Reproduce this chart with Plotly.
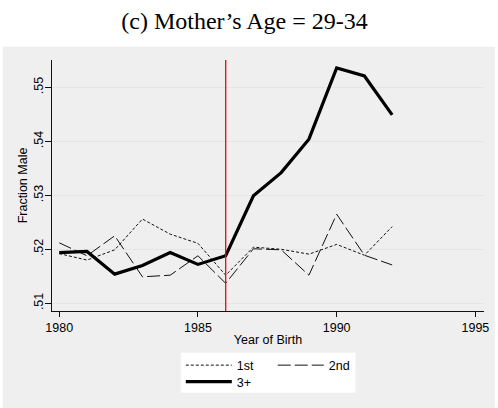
import plotly.graph_objects as go

years = list(range(1980, 1993))
first = [0.5192, 0.5180, 0.5199, 0.5256, 0.5228, 0.5211, 0.5152, 0.5204, 0.5200, 0.5191, 0.5209, 0.5189, 0.5242]
second = [0.5212, 0.5188, 0.5225, 0.5149, 0.5152, 0.5188, 0.5137, 0.5201, 0.5199, 0.5152, 0.5265, 0.5189, 0.5171]
third = [0.5194, 0.5196, 0.5154, 0.5170, 0.5194, 0.5172, 0.5188, 0.5299, 0.5342, 0.5404, 0.5536, 0.5521, 0.5449]
policy_year = 1986

ytick_vals = [0.51, 0.52, 0.53, 0.54, 0.55]
ytick_text = [".51", ".52", ".53", ".54", ".55"]
xtick_vals = [1980, 1985, 1990, 1995]
xtick_text = ["1980", "1985", "1990", "1995"]

W, H = 498, 408
L, R, T, B = 52, 9, 60, 97
PW, PH = W - L - R, H - T - B

def px(x):
    return (x - L) / PW

def py(y):
    return (H - B - y) / PH

BG = "#efefef"
INK = "#111111"
SANS = "Liberation Sans, Arial, sans-serif"
FS = 12.5

fig = go.Figure()

# background panels (style only)
fig.add_shape(type="rect", xref="paper", yref="paper", x0=px(2), x1=px(500), y0=py(410), y1=py(46.7),
              fillcolor=BG, line=dict(width=0), layer="below")
fig.add_shape(type="rect", xref="paper", yref="paper", x0=px(182.3), x1=px(359), y0=py(392.7), y1=py(352.7),
              fillcolor="white", line=dict(width=0), layer="below")

fig.add_trace(go.Scatter(x=years, y=first, mode="lines", name="1st", legend="legend",
                         line=dict(color=INK, width=1, dash="3px,2px")))
fig.add_trace(go.Scatter(x=years, y=second, mode="lines", name="2nd", legend="legend2",
                         line=dict(color=INK, width=1, dash="13px,4px")))
fig.add_trace(go.Scatter(x=years, y=third, mode="lines", name="3+", legend="legend3",
                         line=dict(color="#000000", width=3.2)))

fig.add_vline(x=policy_year, line=dict(color="#ff0000", width=1.3), layer="above")

leg_common = dict(orientation="v", bgcolor="rgba(0,0,0,0)", borderwidth=0, itemwidth=46,
                  font=dict(family=SANS, size=FS, color="#000000"),
                  xanchor="left", yanchor="top", itemclick=False, itemdoubleclick=False)

fig.update_layout(
    width=W, height=H,
    margin=dict(l=L, r=R, t=T, b=B, pad=0),
    paper_bgcolor="white",
    plot_bgcolor=BG,
    title=dict(text="(c) Mother\u2019s Age = 29-34", x=244.5 / W, xref="container", xanchor="center",
               y=1 - 21 / H, yref="container", yanchor="middle",
               font=dict(family="Liberation Serif, Times New Roman, serif", size=24, color="#000000")),
    showlegend=True,
    hovermode=False,
    legend=dict(x=px(182.3), y=py(350.5), **leg_common),
    legend2=dict(x=px(275.3), y=py(350.5), **leg_common),
    legend3=dict(x=px(182.3), y=py(367), **leg_common),
    xaxis=dict(range=[1979.74, 1995.31], tickvals=xtick_vals, ticktext=xtick_text,
               showgrid=False, zeroline=False, showline=True, linecolor=INK, linewidth=1,
               ticks="outside", ticklen=5, tickwidth=1, tickcolor=INK,
               tickfont=dict(family=SANS, size=FS, color="#000000"),
               title=dict(text="Year of Birth", standoff=1, font=dict(family=SANS, size=FS, color="#000000"))),
    yaxis=dict(range=[0.50857, 0.55506], tickvals=ytick_vals, ticktext=ytick_text, tickangle=-90,
               showgrid=True, gridcolor="#e5e5e5", gridwidth=1, zeroline=False,
               showline=True, linecolor=INK, linewidth=1,
               ticks="outside", ticklen=6, tickwidth=1, tickcolor=INK, ticklabelstandoff=-3,
               tickfont=dict(family=SANS, size=FS, color="#000000"),
               title=dict(text="Fraction Male", standoff=1, font=dict(family=SANS, size=FS, color="#000000"))),
)

fig.write_html("out.html", config={"displayModeBar": False, "staticPlot": True},
               post_script="document.body.style.margin='0';")
